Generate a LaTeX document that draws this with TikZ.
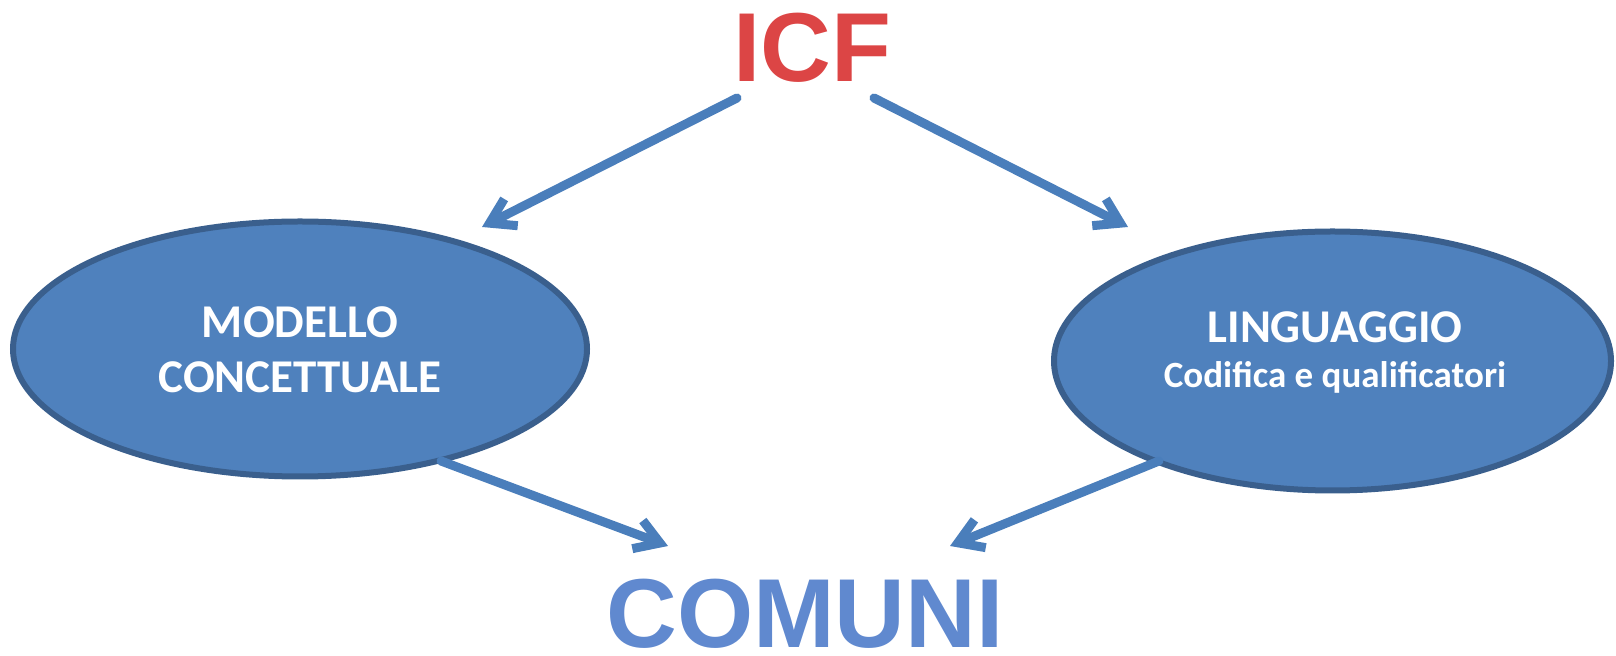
\documentclass[tikz,border=0pt]{standalone}
\usepackage{fontspec}
\setmainfont{Carlito}
\newfontfamily\titlefont{Liberation Sans}
\usetikzlibrary{shapes.geometric,arrows.meta}
\definecolor{arrowblue}{HTML}{4A7EBB}
\definecolor{ellfill}{HTML}{4F81BD}
\definecolor{ellborder}{HTML}{3A5F8D}
\definecolor{icfred}{HTML}{DC4545}
\definecolor{comblue}{HTML}{6089CF}
\tikzset{
  bubble/.style={ellipse, draw=ellborder, line width=3pt, fill=ellfill, inner sep=0pt},
  conn/.style={draw=arrowblue, line width=4.5pt, line cap=round,
    -{Straight Barb[length=12pt,width=15pt]}},
  bigtitle/.style={font=\titlefont\bfseries\fontsize{49}{49}\selectfont, inner sep=0pt, anchor=base},
  lbl/.style={text=white, font=\bfseries\fontsize{23.5}{28}\selectfont, inner sep=0pt, anchor=base},
  sublbl/.style={text=white, font=\bfseries\fontsize{18.5}{22}\selectfont, inner sep=0pt, anchor=base}
}
\begin{document}
\begin{tikzpicture}[x=0.5pt,y=-0.5pt]
\useasboundingbox (0,0) rectangle (1616,656);
% ellipses
\node[bubble, minimum width=287pt, minimum height=127.5pt] (left) at (300,349) {};
\node[bubble, minimum width=278.5pt, minimum height=129.5pt] (right) at (1332.5,361) {};
% labels
\node[lbl] (m1) at (300,338) {MODELLO};
\node[lbl] (m2) at (300,393) {CONCETTUALE};
\node[lbl] (l1) at (1335,343) {LINGUAGGIO};
\node[sublbl] (l2) at (1335,388) {Codifica e qualificatori};
% titles
\node[bigtitle, text=icfred] (icf) at (812,82) {ICF};
\node[bigtitle, text=comblue] (comuni) at (805,648) {COMUNI};
% connector coordinates
\coordinate (a1s) at (737,98);
\coordinate (a1e) at (482,227);
\coordinate (a2s) at (874,98);
\coordinate (a2e) at (1128,227);
\coordinate (a3s) at (441,461);
\coordinate (a3e) at (668,546);
\coordinate (a4s) at (1159,461);
\coordinate (a4e) at (950,546);
\draw[conn] (a1s) -- (a1e);
\draw[conn] (a2s) -- (a2e);
\draw[conn] (a3s) -- (a3e);
\draw[conn] (a4s) -- (a4e);
\end{tikzpicture}
\end{document}
